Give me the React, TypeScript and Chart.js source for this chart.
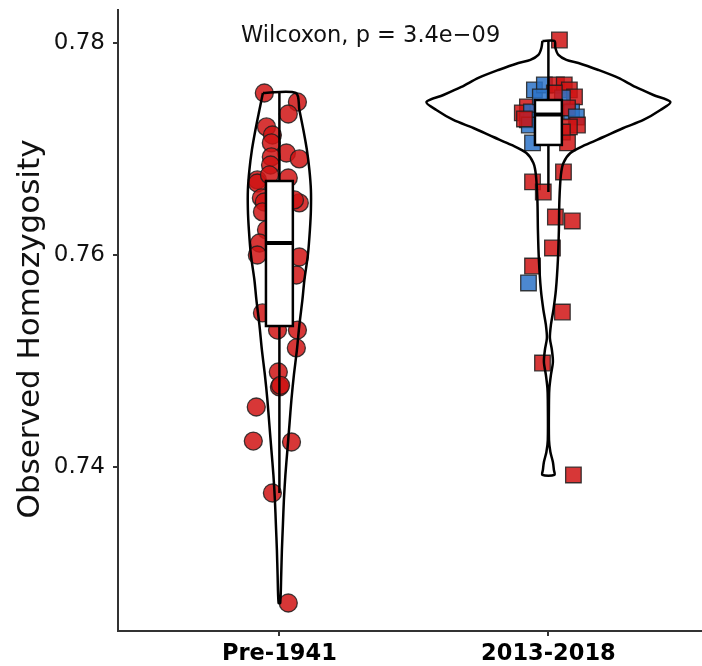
import React, { useEffect, useRef } from "react";
import { Chart, registerables } from "chart.js";

Chart.register(...registerables);

// Groups along the x axis
const categories = ["Pre-1941", "2013-2018"];
const yTicks = [0.74, 0.76, 0.78];
const yMin = 0.72453;
const yMax = 0.78311;
const xMin = 0.4;
const xMax = 2.571;

// Pre-1941 samples: observed homozygosity and horizontal jitter
const preValues = [
  0.77528, 0.77443, 0.7733, 0.77208, 0.77132, 0.77057, 0.76962, 0.76906, 0.76925,
  0.76849, 0.76708, 0.76726, 0.76679, 0.76755, 0.76538, 0.765, 0.76491, 0.76519,
  0.76406, 0.76236, 0.76113, 0.76, 0.75981, 0.75811, 0.75453, 0.75292, 0.75292,
  0.75123, 0.74896, 0.74755, 0.7477, 0.74566, 0.74245, 0.74236, 0.73755, 0.72717,
];
const preJitter = [
  -0.056, 0.067, 0.033, -0.048, -0.026, -0.03, 0.026, 0.074, -0.03,
  -0.033, -0.082, 0.033, -0.082, -0.037, -0.067, -0.056, 0.074, 0.056,
  -0.063, -0.048, -0.074, -0.082, 0.074, 0.063, -0.063, -0.007, 0.067,
  0.063, -0.004, 0, 0.004, -0.086, -0.097, 0.045, -0.026, 0.033,
];

// 2013-2018 samples: values, jitter and sub-population (0 = red, 1 = blue)
const recentValues = [
  0.78028, 0.77557, 0.77604, 0.77604, 0.77604, 0.77557, 0.77491, 0.77481, 0.77396,
  0.7734, 0.77349, 0.77349, 0.77387, 0.77274, 0.77302, 0.77226, 0.77208, 0.77226,
  0.77283, 0.7716, 0.77057, 0.77057, 0.76689, 0.76594, 0.76783, 0.76358, 0.76321,
  0.76066, 0.75896, 0.75736, 0.75462, 0.74981, 0.73925, 0.77528, 0.77491,
];
const recentJitter = [
  0.041, -0.052, -0.015, 0.03, 0.059, 0.078, 0.097, 0.052, -0.078,
  -0.097, -0.063, 0.086, 0.071, -0.078, 0.104, 0.108, 0.078, -0.071,
  -0.089, 0.052, -0.059, 0.071, -0.059, -0.019, 0.056, 0.026, 0.089,
  0.015, -0.059, -0.074, 0.052, -0.022, 0.093, 0.022, -0.03,
];
const recentGroup = [
  0, 1, 1, 0, 0, 0, 0, 1, 0,
  0, 1, 1, 0, 1, 1, 0, 0, 1,
  0, 0, 1, 0, 0, 0, 0, 0, 0,
  0, 0, 1, 0, 0, 0, 0, 1,
];

// Box-plot summaries per group
const boxLow = [0.73755, 0.76594];
const boxQ1 = [0.7533, 0.77038];
const boxMedian = [0.76113, 0.77325];
const boxQ3 = [0.76698, 0.77462];
const boxHigh = [0.77528, 0.78028];

// Violin density profiles (half-width in category units)
const preViolinY = [
  0.77528, 0.77368, 0.77179, 0.76991, 0.76802, 0.76613, 0.76425, 0.76236, 0.76,
  0.75764, 0.75576, 0.7534, 0.75104, 0.74868, 0.74632, 0.74396, 0.7416, 0.73925,
  0.73689, 0.73453, 0.73217, 0.72981, 0.72717,
];
const preViolinWidth = [
  0.0613, 0.0743, 0.0892, 0.1022, 0.1115, 0.1171, 0.1171, 0.1134, 0.1059,
  0.0929, 0.0855, 0.0743, 0.0651, 0.0539, 0.0446, 0.0372, 0.0297, 0.0223,
  0.0167, 0.013, 0.0093, 0.0067, 0.003,
];
const recentViolinY = [
  0.78019, 0.77953, 0.77887, 0.7784, 0.77811, 0.77745, 0.7767, 0.77585, 0.77509,
  0.77443, 0.77368, 0.77274, 0.77198, 0.77113, 0.77038, 0.76962, 0.76868, 0.76755,
  0.76519, 0.76236, 0.75953, 0.7567, 0.75481, 0.7534, 0.75217, 0.75104, 0.74991,
  0.74868, 0.74745, 0.74632, 0.74255, 0.74142, 0.74047, 0.73972, 0.73925,
];
const recentViolinWidth = [
  0.0223, 0.026, 0.0372, 0.0669, 0.1115, 0.1859, 0.2602, 0.3234, 0.3903,
  0.4535, 0.4164, 0.3532, 0.2788, 0.2045, 0.1375, 0.0818, 0.0558, 0.0465,
  0.0409, 0.039, 0.0353, 0.0279, 0.0186, 0.0093, 0.0056, 0.013, 0.0167,
  0.0093, 0.0037, 0.0022, 0.0022, 0.0074, 0.0167, 0.0204, 0.0223,
];

const boxHalfWidth = 0.05;
const FONT = "'DejaVu Sans', Verdana, sans-serif";
const RED = "rgba(208, 20, 20, 0.85)";
const BLUE = "rgba(45, 115, 200, 0.85)";
const EDGE = "rgba(30, 30, 30, 0.85)";

function violinOutline(center: number, ys: number[], ws: number[]) {
  const left = ys.map((y, i) => ({ x: center - ws[i], y }));
  const right = ys.map((y, i) => ({ x: center + ws[i], y })).reverse();
  return [...left, ...right, left[0]];
}

function noScalePadding(s: any) {
  s.paddingTop = 0;
  s.paddingBottom = 0;
  s.paddingLeft = 0;
  s.paddingRight = 0;
}

const overlayPlugin = {
  id: "boxesAndText",
  afterDatasetsDraw(chart: any) {
    const { ctx } = chart;
    const xs = chart.scales.x;
    const ys = chart.scales.y;
    ctx.save();
    ctx.strokeStyle = "#000";
    ctx.lineCap = "butt";
    categories.forEach((_, i) => {
      const cx = xs.getPixelForValue(i + 1);
      const hw = xs.getPixelForValue(i + 1 + boxHalfWidth) - cx;
      const top = ys.getPixelForValue(boxQ3[i]);
      const bot = ys.getPixelForValue(boxQ1[i]);
      ctx.lineWidth = 2.5;
      ctx.beginPath();
      ctx.moveTo(cx, ys.getPixelForValue(boxHigh[i]));
      ctx.lineTo(cx, top);
      ctx.moveTo(cx, bot);
      ctx.lineTo(cx, ys.getPixelForValue(boxLow[i]));
      ctx.stroke();
      ctx.fillStyle = "#fff";
      ctx.fillRect(cx - hw, top, hw * 2, bot - top);
      ctx.strokeRect(cx - hw, top, hw * 2, bot - top);
      const med = ys.getPixelForValue(boxMedian[i]);
      ctx.lineWidth = 4;
      ctx.beginPath();
      ctx.moveTo(cx - hw, med);
      ctx.lineTo(cx + hw, med);
      ctx.stroke();
    });

    ctx.fillStyle = "#111";
    ctx.font = `22.5px ${FONT}`;
    ctx.textAlign = "left";
    ctx.textBaseline = "middle";
    ctx.fillText("Wilcoxon, p = 3.4e\u221209", 241, 36);

    ctx.translate(31, 329);
    ctx.rotate(-Math.PI / 2);
    ctx.textAlign = "center";
    ctx.font = `31px ${FONT}`;
    ctx.fillText("Observed Homozygosity", 0, 0);
    ctx.restore();
  },
};

export default function App() {
  const canvasRef = useRef<HTMLCanvasElement | null>(null);

  useEffect(() => {
    const canvas = canvasRef.current;
    if (!canvas) return;

    const prePoints = preValues.map((v, i) => ({ x: 1 + preJitter[i], y: v }));
    const recentPoints = recentValues.map((v, i) => ({ x: 2 + recentJitter[i], y: v }));
    const recentColors = recentGroup.map((g) => (g === 1 ? BLUE : RED));

    const violinStyle = {
      showLine: true,
      fill: false,
      borderColor: "#000",
      borderWidth: 2.5,
      tension: 0.3,
      pointRadius: 0,
      order: 1,
    };

    const chart = new Chart(canvas, {
      type: "scatter",
      data: {
        datasets: [
          {
            label: "Pre-1941",
            data: prePoints,
            pointStyle: "circle",
            pointRadius: 9,
            backgroundColor: RED,
            borderColor: EDGE,
            borderWidth: 1.3,
            order: 3,
          },
          {
            label: "2013-2018",
            data: recentPoints,
            pointStyle: "rect",
            pointRadius: 11,
            backgroundColor: recentColors,
            borderColor: EDGE,
            borderWidth: 1.3,
            order: 3,
          },
          { label: "violin1", data: violinOutline(1, preViolinY, preViolinWidth), ...violinStyle },
          { label: "violin2", data: violinOutline(2, recentViolinY, recentViolinWidth), ...violinStyle },
        ] as any,
      },
      options: {
        animation: false,
        responsive: false,
        devicePixelRatio: 1,
        events: [],
        layout: { autoPadding: false, padding: { top: 10, left: 0, right: 0, bottom: 0 } },
        plugins: { legend: { display: false }, tooltip: { enabled: false } },
        scales: {
          x: {
            type: "linear",
            min: xMin,
            max: xMax,
            afterBuildTicks: (s: any) => {
              s.ticks = categories.map((_, i) => ({ value: i + 1 }));
            },
            afterFit: (s: any) => {
              s.height = 35;
              noScalePadding(s);
            },
            grid: { drawOnChartArea: false, drawTicks: true, tickLength: 5, color: "#333", lineWidth: 2 },
            border: { display: true, color: "#333", width: 2 },
            ticks: {
              autoSkip: false,
              maxRotation: 0,
              padding: 5,
              color: "#000",
              font: { family: FONT, size: 22.5, weight: "bold" },
              callback: (v: any) => categories[Math.round(Number(v)) - 1] ?? "",
            },
          },
          y: {
            type: "linear",
            min: yMin,
            max: yMax,
            afterBuildTicks: (s: any) => {
              s.ticks = yTicks.map((v) => ({ value: v }));
            },
            afterFit: (s: any) => {
              s.width = 118;
              noScalePadding(s);
            },
            grid: { drawOnChartArea: false, drawTicks: true, tickLength: 5, color: "#333", lineWidth: 2 },
            border: { display: true, color: "#333", width: 2 },
            ticks: {
              padding: 8,
              color: "#111",
              font: { family: FONT, size: 23 },
              callback: (v: any) => Number(v).toFixed(2),
            },
          },
        },
      },
      plugins: [overlayPlugin],
    } as any);

    return () => chart.destroy();
  }, []);

  return (
    <div style={{ position: "absolute", left: 0, top: 0, width: 702, height: 666, background: "#fff" }}>
      <canvas ref={canvasRef} width={702} height={666} style={{ display: "block" }} />
    </div>
  );
}
